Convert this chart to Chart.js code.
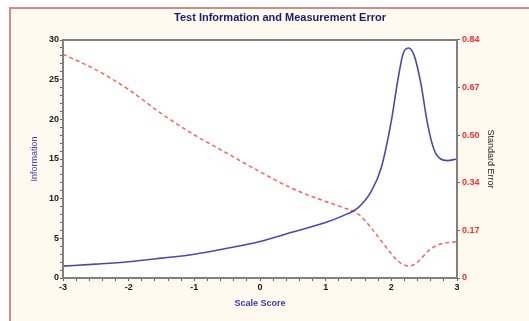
<!DOCTYPE html>
<html>
<head>
<meta charset="utf-8">
<script src="https://cdn.jsdelivr.net/npm/chart.js@4.4.1/dist/chart.umd.min.js"></script>
<style>
html,body{margin:0;padding:0;background:#ffffff;}
#wrap{position:relative;width:529px;height:321px;}
</style>
</head>
<body>
<div id="wrap"><canvas id="c" width="529" height="321"></canvas></div>
<script>
const chartTitle = 'Test Information and Measurement Error';
const xTitle = 'Scale Score';
const leftTitle = 'Information';
const rightTitle = 'Standard Error';

const scores = [-3,-2.5,-2,-1.5,-1,-0.5,0,0.5,1,1.25,1.5,1.7,1.85,2.0,2.1,2.18,2.26,2.35,2.45,2.55,2.65,2.75,2.85,3];
const information = [1.5,1.75,2.05,2.5,3.0,3.75,4.6,5.8,7.0,7.8,8.9,11.0,14.0,19.8,25.0,28.3,29.0,28.0,24.5,19.5,16.2,15.0,14.8,15.0];
const standardError = [0.79,0.735,0.665,0.58,0.505,0.44,0.375,0.315,0.27,0.25,0.225,0.175,0.13,0.085,0.06,0.048,0.042,0.048,0.068,0.093,0.11,0.12,0.125,0.128];

const rightTickLabels = ['0','0.17','0.34','0.50','0.67','0.84'];

const framePlugin = {
  id: 'frame',
  beforeDraw(chart) {
    const ctx = chart.ctx;
    ctx.save();
    ctx.fillStyle = '#ffffff';
    ctx.fillRect(0, 0, chart.width, chart.height);
    ctx.fillStyle = '#fffaf0';
    ctx.fillRect(10, 8, chart.width - 10, chart.height - 8);
    ctx.strokeStyle = '#d08a8a';
    ctx.lineWidth = 2;
    ctx.beginPath();
    ctx.moveTo(10, chart.height);
    ctx.lineTo(10, 8);
    ctx.lineTo(chart.width, 8);
    ctx.stroke();
    const a = chart.chartArea;
    ctx.fillStyle = '#ffffff';
    ctx.fillRect(a.left, a.top, a.right - a.left, a.bottom - a.top);
    ctx.restore();
  },
  afterDraw(chart) {
    const ctx = chart.ctx;
    const a = chart.chartArea;
    ctx.save();
    ctx.strokeStyle = '#808080';
    ctx.lineWidth = 2;
    ctx.strokeRect(a.left, a.top, a.right - a.left, a.bottom - a.top);
    ctx.fillStyle = '#1c1c70';
    ctx.font = 'bold 11px "Liberation Sans", Arial, sans-serif';
    ctx.textAlign = 'center';
    ctx.textBaseline = 'middle';
    ctx.fillText(chartTitle, 280, 18);
    ctx.restore();
  }
};

const isInt = v => Math.abs(v - Math.round(v)) < 1e-6;

new Chart(document.getElementById('c'), {
  type: 'line',
  data: {
    datasets: [
      {
        label: 'Information',
        data: scores.map((s, i) => ({x: s, y: information[i]})),
        borderColor: '#4a4aae',
        borderWidth: 1.6,
        pointRadius: 0,
        fill: false,
        cubicInterpolationMode: 'monotone',
        yAxisID: 'y'
      },
      {
        label: 'Standard Error',
        data: scores.map((s, i) => ({x: s, y: standardError[i]})),
        borderColor: '#ff5a5a',
        borderWidth: 1.4,
        borderDash: [4, 3],
        pointRadius: 0,
        fill: false,
        cubicInterpolationMode: 'monotone',
        yAxisID: 'y1'
      }
    ]
  },
  options: {
    responsive: false,
    animation: false,
    layout: {padding: {top: 40, left: 0, right: 0, bottom: 0}},
    plugins: {legend: {display: false}, tooltip: {enabled: false}, title: {display: false}},
    scales: {
      x: {
        type: 'linear',
        min: -3, max: 3,
        afterFit(s) { s.height = 43; },
        border: {display: true, color: '#808080', width: 2},
        grid: {drawOnChartArea: false, drawTicks: true, tickLength: 3, color: '#606060'},
        ticks: {
          stepSize: 0.2, autoSkip: false, maxRotation: 0, padding: 1,
          color: '#202020',
          font: {family: '"Liberation Sans", Arial, sans-serif', size: 9, weight: 'bold'},
          callback: v => isInt(v) ? String(Math.round(v)) : ''
        },
        title: {
          display: true, text: xTitle, color: '#3a3aa8',
          font: {family: '"Liberation Sans", Arial, sans-serif', size: 9, weight: 'bold'},
          padding: {top: 0, bottom: 12}
        }
      },
      y: {
        type: 'linear', position: 'left',
        min: 0, max: 30,
        afterFit(s) { s.width = 63; },
        border: {display: true, color: '#707070', width: 2},
        grid: {drawOnChartArea: false, drawTicks: true, tickLength: 3, color: '#606060'},
        ticks: {
          stepSize: 1, autoSkip: false, padding: 1,
          color: '#202020',
          font: {family: '"Liberation Sans", Arial, sans-serif', size: 9, weight: 'bold'},
          callback: v => (Math.round(v) % 5 === 0) ? String(Math.round(v)) : ''
        },
        title: {
          display: true, text: leftTitle, color: '#4040b0',
          font: {family: '"Liberation Sans", Arial, sans-serif', size: 9},
          padding: {top: 29, bottom: 0}
        }
      },
      y1: {
        type: 'linear', position: 'right',
        min: 0, max: 0.84,
        afterFit(s) { s.width = 72; },
        afterBuildTicks(s) { s.ticks = rightTickLabels.map((t, i) => ({value: i * 0.168})); },
        border: {display: true, color: '#707070', width: 2},
        grid: {drawOnChartArea: false, drawTicks: true, tickLength: 3, color: '#606060'},
        ticks: {
          autoSkip: false, padding: 2,
          color: '#ff2a2a',
          font: {family: '"Liberation Sans", Arial, sans-serif', size: 9, weight: 'bold'},
          callback: (v, i) => rightTickLabels[i]
        },
        title: {
          display: true, text: rightTitle, color: '#202020',
          font: {family: '"Liberation Sans", Arial, sans-serif', size: 9},
          padding: {top: 33, bottom: 0}
        }
      }
    }
  },
  plugins: [framePlugin]
});
</script>
</body>
</html>
